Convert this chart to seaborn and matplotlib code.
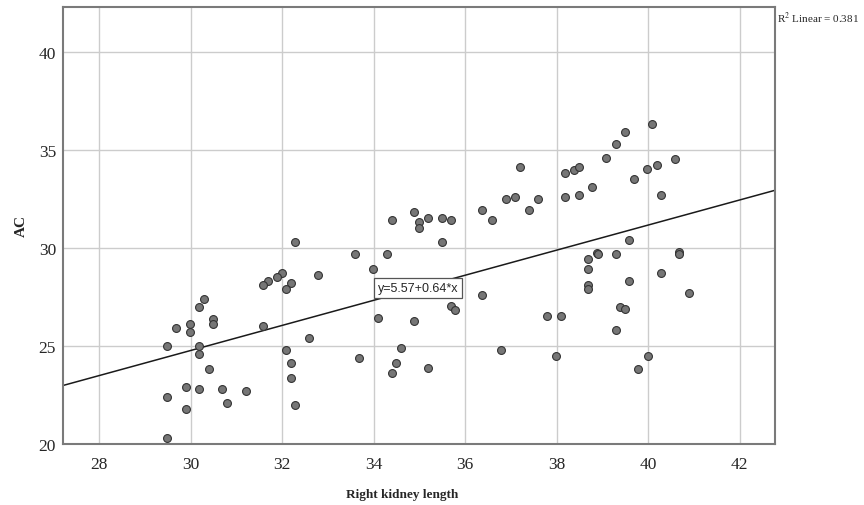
import matplotlib
matplotlib.use("Agg")
import matplotlib.pyplot as plt
import pandas as pd
import seaborn as sns

# Right kidney length (x) and AC (y)
kidney_length = [
    30.29, 30.19, 30.49, 30.49, 29.69, 29.99, 29.99, 29.49, 30.19, 30.19,
    30.40, 29.89, 30.19, 30.69, 31.20, 29.49, 30.80, 29.89, 29.49,
    34.89, 34.40, 34.99, 34.99, 35.20, 32.29, 33.59, 34.29, 33.99, 32.79,
    31.99, 31.89, 31.70, 31.59, 32.20, 32.09, 34.09, 34.89, 31.59, 32.59,
    32.09, 34.59, 33.69, 32.20, 34.49, 32.20, 34.40, 35.20, 32.29,
    37.19, 38.18, 38.38, 38.50, 38.78, 38.18, 38.50, 36.90, 37.09, 37.59,
    36.38, 36.59, 37.39, 35.49, 35.69, 35.49, 38.88, 38.69, 38.69, 38.69,
    38.69, 36.38, 35.69, 35.79, 37.79, 38.09, 36.79, 37.99,
    40.09, 39.50, 39.29, 39.09, 40.59, 40.19, 39.98, 39.69, 40.29, 39.58,
    38.90, 39.29, 40.68, 40.68, 40.29, 39.58, 40.89, 39.39, 39.50, 39.29,
    39.99, 39.79,
]
ac = [
    27.40, 26.99, 26.40, 26.10, 25.90, 26.11, 25.70, 25.00, 25.02, 24.59,
    23.81, 22.91, 22.79, 22.79, 22.69, 22.40, 22.09, 21.79, 20.29,
    31.82, 31.41, 31.31, 31.01, 31.52, 30.32, 29.71, 29.71, 28.91, 28.61,
    28.72, 28.50, 28.32, 28.10, 28.21, 27.91, 26.41, 26.29, 26.00, 25.41,
    24.80, 24.90, 24.39, 24.12, 24.12, 23.38, 23.61, 23.89, 21.99,
    34.12, 33.83, 34.00, 34.12, 33.13, 32.62, 32.72, 32.52, 32.60, 32.52,
    31.92, 31.43, 31.92, 31.52, 31.43, 30.32, 29.73, 29.42, 28.93, 28.11,
    27.91, 27.62, 27.04, 26.82, 26.51, 26.51, 24.81, 24.51,
    36.33, 35.92, 35.32, 34.61, 34.53, 34.22, 34.02, 33.52, 32.72, 30.41,
    29.71, 29.71, 29.81, 29.71, 28.71, 28.30, 27.70, 27.01, 26.90, 25.80,
    24.49, 23.81,
]

# fit reported on the chart
intercept = 5.57
slope = 0.64
r_squared = 0.381

df = pd.DataFrame({"Right kidney length": kidney_length, "AC": ac})

sns.set_style("white")
plt.rcParams["font.family"] = ["Liberation Serif", "DejaVu Serif"]
plt.rcParams["mathtext.fontset"] = "stix"

fig = plt.figure(figsize=(8.64, 5.06), dpi=100)
ax = fig.add_axes([0.0729, 0.1206, 0.8238, 0.8636])

ax.grid(True, color="#cccccc", linewidth=1.0)
ax.set_axisbelow(True)

sns.scatterplot(
    data=df, x="Right kidney length", y="AC",
    color="#767676", edgecolor="#333333", linewidth=0.8,
    s=32, ax=ax, zorder=3,
)

ax.axline((0, intercept), slope=slope, color="#1a1a1a", linewidth=1.1, zorder=2)

ax.set_xlim(27.21, 42.77)
ax.set_ylim(20, 42.3)
ax.set_xticks(range(28, 43, 2))
ax.set_yticks(range(20, 41, 5))
ax.tick_params(length=0, labelsize=12.5)
ax.tick_params(axis="x", pad=9)
ax.tick_params(axis="y", pad=5)

for sp in ax.spines.values():
    sp.set_visible(True)
    sp.set_color("#7a7a7a")
    sp.set_linewidth(1.5)

ax.set_xlabel("Right kidney length", fontsize=9.5, fontweight="bold")
ax.xaxis.set_label_coords(0.476, -0.10)
ax.set_ylabel("AC", fontsize=11, fontweight="bold", labelpad=8)

ax.text(
    34.97, 27.96, f"y={intercept:.2f}+{slope:.2f}*x",
    family="Liberation Sans", fontsize=9, ha="center", va="center", zorder=4,
    bbox=dict(boxstyle="square,pad=0.3", facecolor="white", edgecolor="#555555",
              linewidth=0.9),
)

fig.text(0.899, 0.963, f"R$^2$ Linear = {r_squared:.3f}", fontsize=8,
         ha="left", va="center")

fig.savefig("out.png", dpi=100, facecolor="white")
plt.close(fig)
